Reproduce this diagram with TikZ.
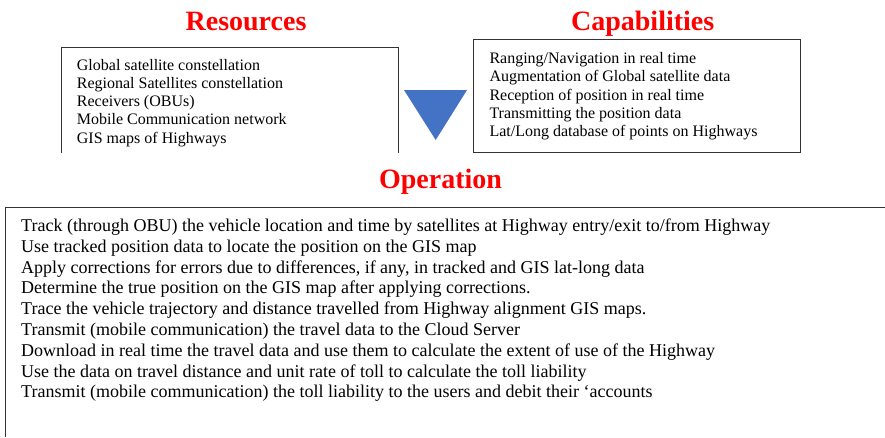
\documentclass[tikz,border=0pt]{standalone}
\usepackage{fontspec}
\setmainfont{Liberation Serif}
\definecolor{arrowblue}{HTML}{4472C4}
\definecolor{titlered}{HTML}{FF0000}
\begin{document}
\begin{tikzpicture}[x=1pt,y=-1pt,
  title/.style={font=\fontsize{28}{30}\selectfont\bfseries, text=titlered, inner sep=0pt, anchor=base},
  boxline/.style={draw=black!80, line width=0.9pt},
  smalltext/.style={font=\fontsize{16}{18}\selectfont, inner sep=0pt, anchor=base west},
  optext/.style={font=\fontsize{18}{20}\selectfont, inner sep=0pt, anchor=base west}]
\useasboundingbox (0,0) rectangle (885,437);
\fill[white] (0,0) rectangle (885,437);
% titles
\node[title] (tres) at (246,30) {Resources};
\node[title] (tcap) at (642.7,30) {Capabilities};
\node[title] (top) at (440.5,188.3) {Operation};
% resources box (open at bottom)
\draw[boxline] (61.5,153) -- (61.5,47) -- (398,47) -- (398,153);
\foreach \t [count=\i] in {Global satellite constellation,Regional Satellites constellation,Receivers (OBUs),Mobile Communication network,GIS maps of Highways}
  \node[smalltext] (r\i) at (76.7,{70+(\i-1)*18.3}) {\t};
% capabilities box
\draw[boxline] (473,39.5) rectangle (800,152.5);
\foreach \t [count=\i] in {Ranging/Navigation in real time,Augmentation of Global satellite data,Reception of position in real time,Transmitting the position data,Lat/Long database of points on Highways}
  \node[smalltext] (c\i) at (489.3,{63.5+(\i-1)*18.3}) {\t};
% triangle
\fill[arrowblue] (404,90) -- (467,90) -- (435.7,140) -- cycle;
% operation box (open right and bottom)
\draw[boxline] (5.5,437) -- (5.5,207) -- (885,207);
\foreach \t [count=\i] in {Track (through OBU) the vehicle location and time by satellites at Highway entry/exit to/from Highway,
Use tracked position data to locate the position on the GIS map,
{Apply corrections for errors due to differences, if any, in tracked and GIS lat-long data},
Determine the true position on the GIS map after applying corrections.,
Trace the vehicle trajectory and distance travelled from Highway alignment GIS maps.,
Transmit (mobile communication) the travel data to the Cloud Server,
Download in real time the travel data and use them to calculate the extent of use of the Highway,
Use the data on travel distance and unit rate of toll to calculate the toll liability,
Transmit (mobile communication) the toll liability to the users and debit their ‘accounts}
  \node[optext] (o\i) at (21,{231.5+(\i-1)*20.8}) {\t};
\end{tikzpicture}
\end{document}
